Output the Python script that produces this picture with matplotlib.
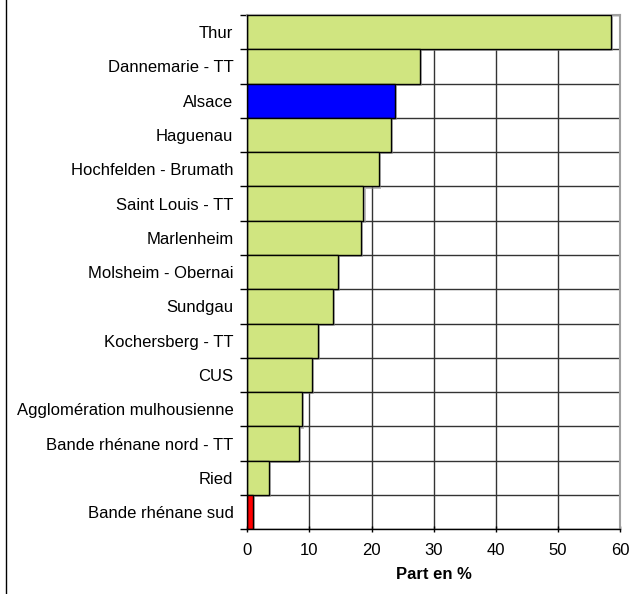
import matplotlib
matplotlib.use('Agg')
import matplotlib.pyplot as plt
import matplotlib.patheffects as pe
from matplotlib.lines import Line2D
import numpy as np

plt.rcParams['font.family'] = ['Liberation Sans', 'DejaVu Sans']

# territories, top to bottom
territoires = ['Thur', 'Dannemarie - TT', 'Alsace', 'Haguenau',
               'Hochfelden - Brumath', 'Saint Louis - TT', 'Marlenheim',
               'Molsheim - Obernai', 'Sundgau', 'Kochersberg - TT', 'CUS',
               'Agglomération mulhousienne', 'Bande rhénane nord - TT',
               'Ried', 'Bande rhénane sud']
parts = [58.6, 27.8, 23.8, 23.1, 21.2, 18.7, 18.3, 14.65, 13.85, 11.4,
         10.4, 8.75, 8.3, 3.45, 0.85]
x_ticks = [0, 10, 20, 30, 40, 50, 60]

green = '#D0E580'
colors = [green] * len(territoires)
colors[territoires.index('Alsace')] = '#0000FF'
colors[territoires.index('Bande rhénane sud')] = '#FF0000'

fig = plt.figure(figsize=(6.36, 5.94), dpi=100)
ax = fig.add_axes([0.3889, 0.1089, 0.5859, 0.8658])

n = len(territoires)
ypos = np.arange(n)
bars = ax.barh(ypos, parts, height=1.0, color=colors, edgecolor='black',
               linewidth=1.0, zorder=3)
for b in bars:
    b.set_path_effects([pe.SimplePatchShadow(offset=(1.5, -1.5),
                                             shadow_rgbFace='#909090',
                                             alpha=0.6),
                        pe.Normal()])

ax.set_ylim(n - 0.5, -0.5)
ax.set_xlim(0, 60)

# category boundaries carry ticks and gridlines, labels sit between them
ax.set_yticks(np.arange(n + 1) - 0.5)
ax.set_yticklabels([])
ax.set_yticks(ypos, minor=True)
ax.set_yticklabels(territoires, minor=True)
ax.tick_params(axis='y', which='minor', length=0, pad=10, labelsize=12)
ax.tick_params(axis='y', which='major', length=5, direction='out', width=1)

ax.set_xticks(x_ticks)
ax.tick_params(axis='x', length=5, direction='inout', width=1, labelsize=12,
               pad=7)
ax.set_xlabel('Part en %', fontsize=12, fontweight='bold', labelpad=7)

ax.grid(True, which='major', color='#333333', linewidth=1.0, zorder=1)
ax.set_axisbelow(True)

for side in ['top', 'right']:
    ax.spines[side].set_color('#A0A0A0')
    ax.spines[side].set_linewidth(1.5)
for side in ['left', 'bottom']:
    ax.spines[side].set_color('black')
    ax.spines[side].set_linewidth(1.0)
    ax.spines[side].set_zorder(4)

# frame edge on the left of the figure
fig.add_artist(Line2D([5.5 / 636, 5.5 / 636], [0, 1], color='black',
                      linewidth=1.0, transform=fig.transFigure))

fig.savefig('out.png', dpi=100)
